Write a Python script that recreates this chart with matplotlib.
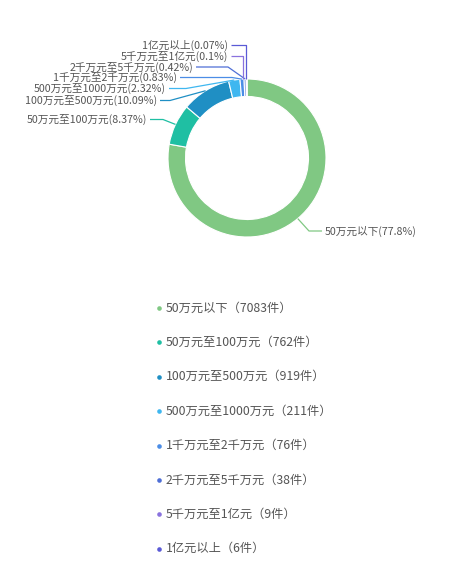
import matplotlib
matplotlib.use('Agg')
from matplotlib import pyplot as plt
import numpy as np

plt.rcParams['font.family'] = ['Noto Sans CJK SC', 'DejaVu Sans']

# data
names = ['50万元以下', '50万元至100万元', '100万元至500万元', '500万元至1000万元',
         '1千万元至2千万元', '2千万元至5千万元', '5千万元至1亿元', '1亿元以上']
counts = [7083, 762, 919, 211, 76, 38, 9, 6]
colors = ['#80c883', '#1fbfa3', '#1f8fc4', '#3fb7f0',
          '#4b8de6', '#4f6fd6', '#8a72de', '#5a5ad6']

# layout (pixels from the top-left corner)
W, H = 450, 575
cx, cy, r_out, ring = 247, 158, 79, 17.5
# label text anchor (x, y), and elbow x of the leader line
label_x = [325, 147, 157, 166, 177, 193, 228, 228]
label_y = [231, 119.5, 100.5, 88.5, 77.5, 67, 56, 45]
elbow_x = [309, 163, 170, 186, 232, 228, 243, 245.5]


def py(y):
    return H - y


fig = plt.figure(figsize=(W / 100, H / 100), dpi=100)
ax = fig.add_axes([0, 0, 1, 1])

wedges, _ = ax.pie(counts, colors=colors, startangle=90, counterclock=False,
                   radius=r_out, center=(cx, py(cy)),
                   wedgeprops=dict(width=ring, edgecolor='white', linewidth=0.8))

total = sum(counts)
for i, w in enumerate(wedges):
    pct = round(counts[i] / total * 100, 2)
    txt = f'{names[i]}({pct:g}%)'
    mid = np.deg2rad((w.theta1 + w.theta2) / 2)
    x0 = cx + r_out * np.cos(mid)
    y0 = py(cy) + r_out * np.sin(mid)
    ty = py(label_y[i])
    if i == 0:
        xs = [x0, elbow_x[i], label_x[i] - 3]
        ha = 'left'
    else:
        xs = [x0, elbow_x[i], label_x[i] + 3]
        ha = 'right'
    if i >= 6:
        # the two smallest slices go straight up, then across
        xs = [elbow_x[i], elbow_x[i], label_x[i] + 3]
        ys = [py(cy - r_out), ty, ty]
    else:
        ys = [y0, ty, ty]
    ax.plot(xs, ys, color=colors[i], lw=0.9, solid_capstyle='butt')
    ax.text(label_x[i], ty, txt, ha=ha, va='center', fontsize=7.7, color='#555555')

# legend
leg_y0, leg_dy = 308, 34.4
for i, name in enumerate(names):
    y = py(leg_y0 + i * leg_dy)
    ax.scatter([159], [y], s=11, color=colors[i], linewidths=0)
    ax.text(166, y, f'{name}（{counts[i]}件）', ha='left', va='center',
            fontsize=8.8, color='#555555')

ax.set_xlim(0, W)
ax.set_ylim(0, H)
ax.set_aspect('auto')
ax.axis('off')

fig.savefig('out.png', dpi=100)
